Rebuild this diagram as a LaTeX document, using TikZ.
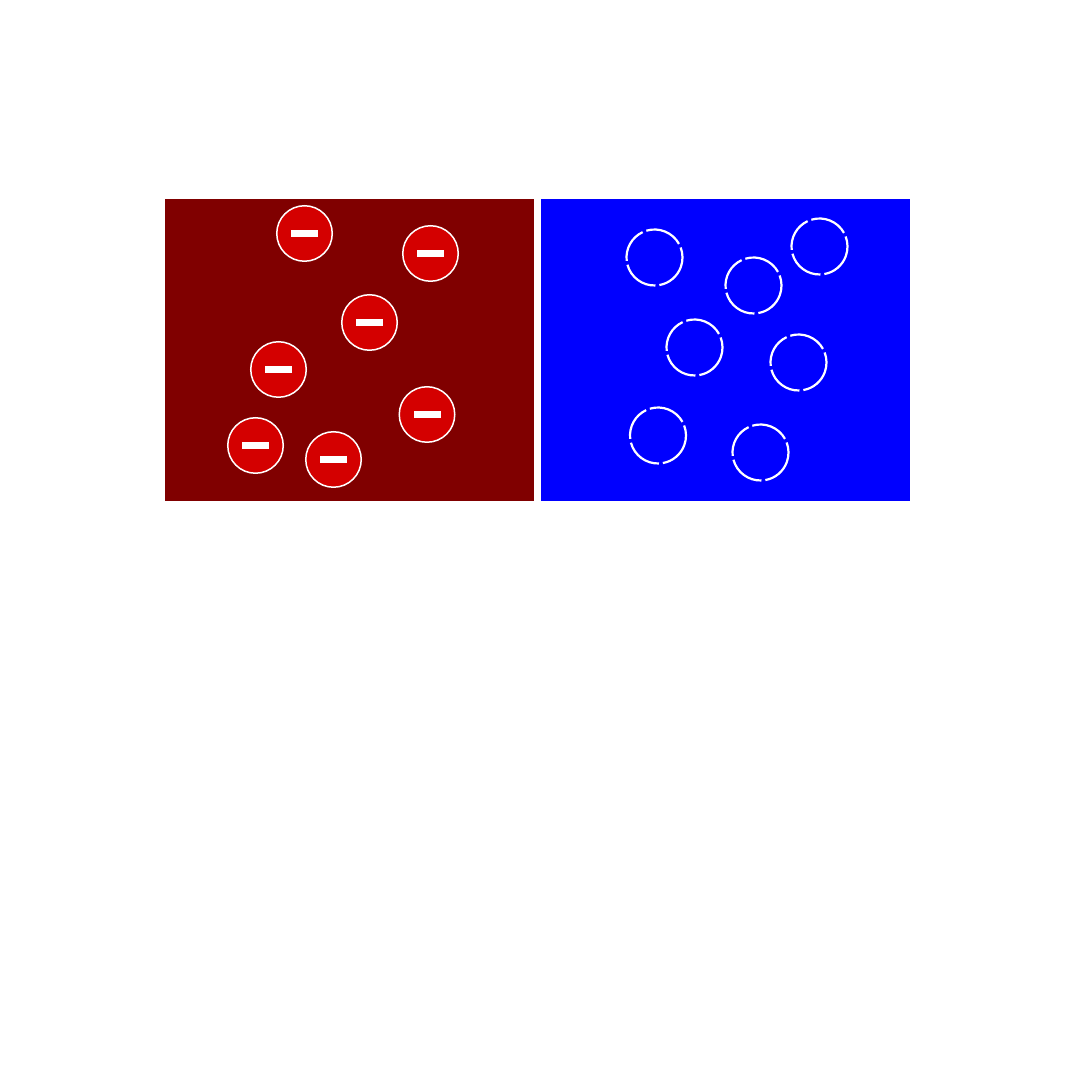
\documentclass[tikz,border=0pt]{standalone}
\begin{document}
\begin{tikzpicture}[x=1pt,y=1pt,
  charge/.style={circle,fill=chargered,draw=white,line width=1.5pt,minimum size=55.5pt,inner sep=0pt},
  hole/.style={white,line width=2.2pt}]
\definecolor{darkred}{RGB}{128,0,0}
\definecolor{chargered}{RGB}{212,0,0}
\definecolor{pureblue}{RGB}{0,0,255}
\useasboundingbox (0,0) rectangle (1080,1080);
\fill[white] (0,0) rectangle (1080,1080);
\fill[darkred] (165,579) rectangle (534,881);
\fill[pureblue] (541,579) rectangle (910,881);
\foreach \n/\x/\y in {a/304.5/846.5,b/430.5/826.5,c/369.5/757.5,d/278.5/710.5,e/427/665.5,f/255.5/634.5,g/333.5/620.5}{
  \node[charge] (\n) at (\x,\y) {};
  \fill[white] ([xshift=-13.5pt,yshift=-3.5pt]\n.center) rectangle ([xshift=13.5pt,yshift=3.5pt]\n.center);
}
\foreach \x/\y in {654.5/822.5,753.5/794.5,819.5/833.5,694.5/732.5,798.5/717.5,658/644.5,760.5/627.5}{
  \foreach \s/\e in {29/107,115/187,195/272,280/381}{
    \draw[hole] ([shift={(\s:28)}]\x,\y) arc[start angle=\s,end angle=\e,radius=28];
  }
}
\end{tikzpicture}
\end{document}
